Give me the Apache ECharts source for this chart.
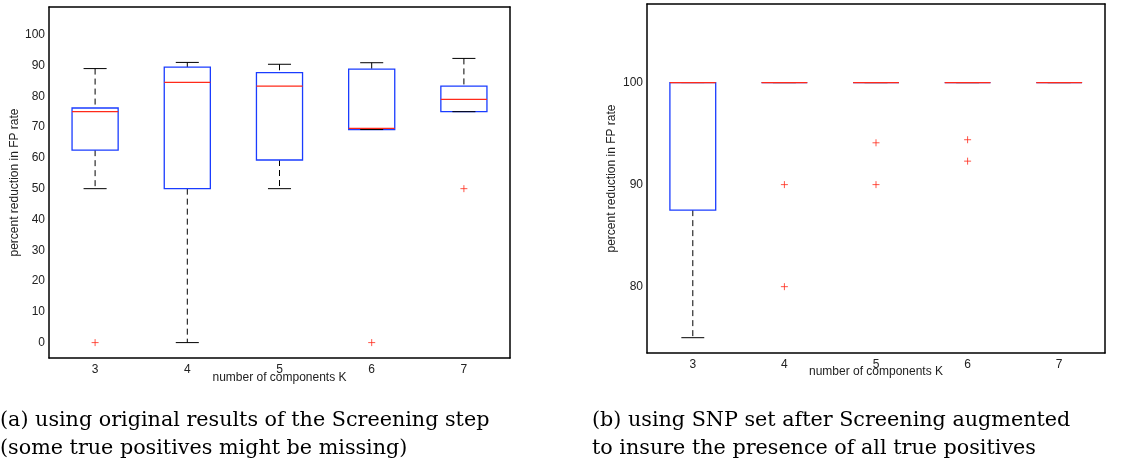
<!DOCTYPE html>
<html>
<head>
<meta charset="utf-8">
<script src="https://cdn.jsdelivr.net/npm/echarts@6/dist/echarts.min.js"></script>
<style>
  html, body { margin: 0; padding: 0; background: #fff; }
  #main { width: 1126px; height: 465px; }
</style>
</head>
<body>
<div id="main"></div>
<script>
// number of components K
const categories = ['3', '4', '5', '6', '7'];

// (a) original screening: [lower whisker, Q1, median, Q3, upper whisker]
const boxA = [
    [50, 62.5, 75, 76.2, 89],
    [0, 50, 84.5, 89.5, 91],
    [50, 59.3, 83.3, 87.7, 90.4],
    [69.2, 69.2, 69.6, 88.8, 90.9],
    [75, 75, 79, 83.3, 92.3]
];
// outliers as [category index, value]
const outliersA = [[0, 0], [3, 0], [4, 50]];

// (b) augmented SNP set
const boxB = [
    [75, 87.5, 100, 100, 100],
    [100, 100, 100, 100, 100],
    [100, 100, 100, 100, 100],
    [100, 100, 100, 100, 100],
    [100, 100, 100, 100, 100]
];
const outliersB = [[1, 90], [1, 80], [2, 94.1], [2, 90], [3, 94.4], [3, 92.3]];

const ticksA = [0, 10, 20, 30, 40, 50, 60, 70, 80, 90, 100];
const ticksB = [80, 90, 100];

const captionA = '(a) using original results of the Screening step\n(some true positives might be missing)';
const captionB = '(b) using SNP set after Screening augmented\nto insure the presence of all true positives';

const BLUE = '#1a3cff';
const RED = '#ff2a1a';
const FONT = 'Liberation Sans';
const SERIF = 'DejaVu Serif';

function renderBox(params, api) {
    var i = api.value(0);
    var lo = api.coord([i, api.value(1)]);
    var q1 = api.coord([i, api.value(2)]);
    var med = api.coord([i, api.value(3)]);
    var q3 = api.coord([i, api.value(4)]);
    var hi = api.coord([i, api.value(5)]);
    var band = api.size([1, 0])[0];
    var half = band * 0.25, cap = band * 0.125;
    var cx = med[0];
    var dashed = { stroke: '#000', lineWidth: 1, lineDash: [6, 4] };
    var solid = { stroke: '#000', lineWidth: 1 };
    return {
        type: 'group',
        children: [
            { type: 'line', shape: { x1: cx, y1: hi[1], x2: cx, y2: q3[1] }, style: dashed },
            { type: 'line', shape: { x1: cx, y1: q1[1], x2: cx, y2: lo[1] }, style: dashed },
            { type: 'rect', shape: { x: cx - half, y: q3[1], width: half * 2, height: q1[1] - q3[1] },
              style: { fill: 'none', stroke: BLUE, lineWidth: 1.3 } },
            { type: 'line', shape: { x1: cx - cap, y1: hi[1], x2: cx + cap, y2: hi[1] }, style: solid },
            { type: 'line', shape: { x1: cx - cap, y1: lo[1], x2: cx + cap, y2: lo[1] }, style: solid },
            { type: 'line', shape: { x1: cx - half, y1: med[1], x2: cx + half, y2: med[1] },
              style: { stroke: RED, lineWidth: 1.3 } }
        ]
    };
}

function xAxes(gridIndex, gap) {
    var line = { show: true, onZero: false, lineStyle: { color: '#000', width: 1.5 } };
    return [{
        type: 'category', gridIndex: gridIndex, position: 'bottom', data: categories,
        axisLine: line,
        axisTick: { inside: true, alignWithLabel: true, length: 5, lineStyle: { color: '#000' } },
        axisLabel: { color: '#222', fontSize: 12, fontFamily: FONT, margin: 6 },
        name: 'number of components K', nameLocation: 'middle', nameGap: gap, nameMoveOverlap: false,
        nameTextStyle: { color: '#222', fontSize: 12, fontFamily: FONT }
    }, {
        type: 'category', gridIndex: gridIndex, position: 'top', data: categories,
        axisLine: line,
        axisTick: { inside: true, alignWithLabel: true, length: 5, lineStyle: { color: '#000' } },
        axisLabel: { show: false }
    }];
}

function yAxes(gridIndex, min, max, ticks, gap) {
    var line = { show: true, onZero: false, lineStyle: { color: '#000', width: 1.5 } };
    return [{
        type: 'value', gridIndex: gridIndex, position: 'left', min: min, max: max,
        axisLine: line, splitLine: { show: false },
        axisTick: { inside: true, length: 5, customValues: ticks, lineStyle: { color: '#000' } },
        axisLabel: { customValues: ticks, color: '#222', fontSize: 12, fontFamily: FONT, margin: 4 },
        name: 'percent reduction in FP rate', nameLocation: 'middle', nameGap: gap,
        nameTextStyle: { color: '#222', fontSize: 12, fontFamily: FONT }
    }, {
        type: 'value', gridIndex: gridIndex, position: 'right', min: min, max: max,
        axisLine: line, splitLine: { show: false },
        axisTick: { inside: true, length: 5, customValues: ticks, lineStyle: { color: '#000' } },
        axisLabel: { show: false }
    }];
}

function withIndex(rows) {
    return rows.map(function (r, i) { return [i].concat(r); });
}

const captionStyle = { fontFamily: SERIF, fontSize: 20.7, fontWeight: 'normal', lineHeight: 28, color: '#000' };

const chart = echarts.init(document.getElementById('main'));
chart.setOption({
    animation: false,
    backgroundColor: '#fff',
    title: [
        { text: captionA, left: 0, top: 407, padding: 0, textStyle: captionStyle },
        { text: captionB, left: 592, top: 407, padding: 0, textStyle: captionStyle }
    ],
    grid: [
        { left: 49, top: 7, width: 461, height: 351 },
        { left: 647, top: 4, width: 458, height: 349 }
    ],
    xAxis: xAxes(0, 14).concat(xAxes(1, 13)),
    yAxis: yAxes(0, -5, 109, ticksA, 26).concat(yAxes(1, 73.5, 107.7, ticksB, 29)),
    series: [{
        type: 'custom', xAxisIndex: 0, yAxisIndex: 0,
        renderItem: renderBox, encode: { x: 0, y: [1, 2, 3, 4, 5] },
        data: withIndex(boxA)
    }, {
        type: 'scatter', xAxisIndex: 0, yAxisIndex: 0,
        symbol: 'path://M0,5L10,5M5,0L5,10', symbolSize: 7,
        itemStyle: { color: 'none', borderColor: RED, borderWidth: 1 },
        data: outliersA
    }, {
        type: 'custom', xAxisIndex: 2, yAxisIndex: 2,
        renderItem: renderBox, encode: { x: 0, y: [1, 2, 3, 4, 5] },
        data: withIndex(boxB)
    }, {
        type: 'scatter', xAxisIndex: 2, yAxisIndex: 2,
        symbol: 'path://M0,5L10,5M5,0L5,10', symbolSize: 7,
        itemStyle: { color: 'none', borderColor: RED, borderWidth: 1 },
        data: outliersB
    }]
});
</script>
</body>
</html>
